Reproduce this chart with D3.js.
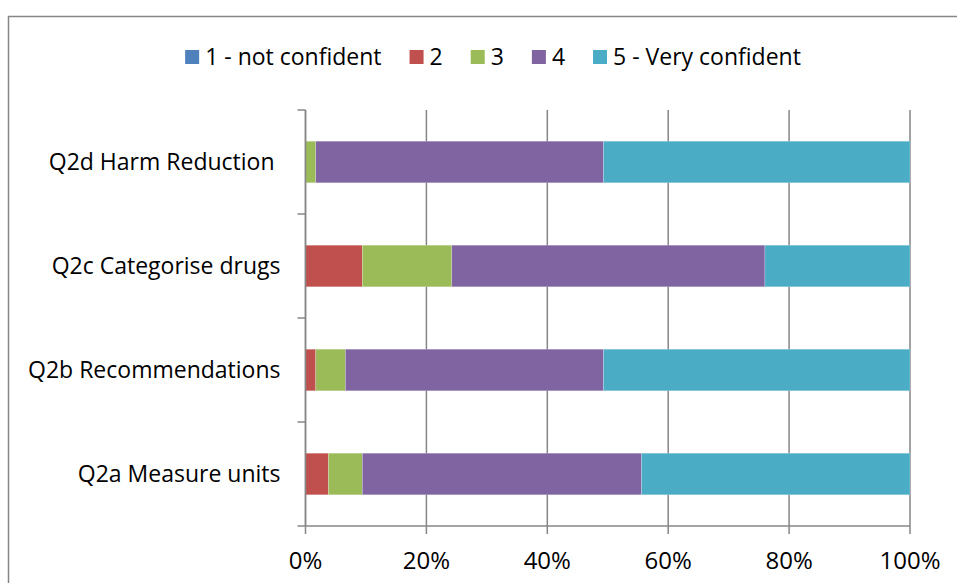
<!DOCTYPE html>
<html>
<head>
<meta charset="utf-8">
<script src="https://cdn.jsdelivr.net/npm/d3@7"></script>
<style>
  html, body { margin: 0; padding: 0; background: #fff; }
  svg { display: block; font-family: "Open Sans", Lato, sans-serif; }
  .cat-label { white-space: pre; }
</style>
</head>
<body>
<svg id="chart" width="957" height="583"></svg>
<script>
// Survey questions, bottom to top (the Q2d label carries a trailing space)
const categories = ["Q2a Measure units", "Q2b Recommendations", "Q2c Categorise drugs", "Q2d Harm Reduction "];
// Confidence levels (legend order)
const levels = ["1 - not confident", "2", "3", "4", "5 - Very confident"];
const levelColors = ["#4F81BD", "#C0504D", "#9BBB59", "#8064A2", "#4BACC6"];
// Share of responses (%) per level, one array per level, aligned with categories
const notConfident = [0, 0, 0, 0];
const level2 = [3.8, 1.7, 9.4, 0];
const level3 = [5.6, 4.9, 14.8, 1.7];
const level4 = [46.2, 42.7, 51.8, 47.6];
const veryConfident = [44.4, 50.7, 24.0, 50.7];
const xTicks = [0, 20, 40, 60, 80, 100];

const svg = d3.select("#chart");

// Outer chart frame
svg.append("rect")
  .attr("x", 8.5).attr("y", 16.5)
  .attr("width", 980).attr("height", 600)
  .attr("fill", "#fff").attr("stroke", "#868686").attr("stroke-width", 1.5);

const plot = { left: 305.5, right: 910, top: 110, bottom: 526 };

const x = d3.scaleLinear().domain([0, 100]).range([plot.left, plot.right]);
const y = d3.scaleBand().domain(categories).range([plot.bottom, plot.top])
  .paddingInner(0.6).paddingOuter(0.3);

// Vertical gridlines
svg.append("g").selectAll("line").data(xTicks).join("line")
  .attr("x1", d => x(d)).attr("x2", d => x(d))
  .attr("y1", plot.top).attr("y2", plot.bottom)
  .attr("stroke", "#868686").attr("stroke-width", 1.5);

// Stacked series
const table = categories.map((c, i) => ({
  cat: c,
  [levels[0]]: notConfident[i],
  [levels[1]]: level2[i],
  [levels[2]]: level3[i],
  [levels[3]]: level4[i],
  [levels[4]]: veryConfident[i]
}));
const stacked = d3.stack().keys(levels)(table);

svg.append("g").selectAll("g").data(stacked).join("g")
  .attr("fill", (d, i) => levelColors[i])
  .selectAll("rect").data(d => d).join("rect")
  .attr("x", d => x(d[0]))
  .attr("width", d => Math.max(0, x(d[1]) - x(d[0])))
  .attr("y", d => y(d.data.cat))
  .attr("height", y.bandwidth())
  .attr("stroke", "rgba(255,255,255,0.35)").attr("stroke-width", 0.6);

// Y axis: line, ticks between categories, labels
const yAxis = svg.append("g");
yAxis.append("line")
  .attr("x1", plot.left).attr("x2", plot.left)
  .attr("y1", plot.top).attr("y2", plot.bottom)
  .attr("stroke", "#868686").attr("stroke-width", 1.5);
const boundaries = categories.map(c => y(c) + y.bandwidth() + y.step() * y.paddingInner() / 2);
boundaries.push(plot.top);
yAxis.selectAll("line.tick").data(boundaries).join("line")
  .attr("class", "tick")
  .attr("x1", plot.left - 8).attr("x2", plot.left)
  .attr("y1", d => d).attr("y2", d => d)
  .attr("stroke", "#868686").attr("stroke-width", 1.5);
yAxis.selectAll("text").data(categories).join("text")
  .attr("class", "cat-label")
  .attr("x", plot.left - 25)
  .attr("y", d => y(d) + y.bandwidth() / 2)
  .attr("dy", "0.36em")
  .attr("text-anchor", "end")
  .attr("font-size", 23)
  .attr("fill", "#000")
  .text(d => d);

// X axis
const xAxis = svg.append("g");
xAxis.append("line")
  .attr("x1", plot.left).attr("x2", plot.right)
  .attr("y1", plot.bottom).attr("y2", plot.bottom)
  .attr("stroke", "#868686").attr("stroke-width", 1.5);
xAxis.selectAll("line.tick").data(xTicks).join("line")
  .attr("class", "tick")
  .attr("x1", d => x(d)).attr("x2", d => x(d))
  .attr("y1", plot.bottom).attr("y2", plot.bottom + 8)
  .attr("stroke", "#868686").attr("stroke-width", 1.5);
xAxis.selectAll("text").data(xTicks).join("text")
  .attr("x", d => x(d))
  .attr("y", 569)
  .attr("text-anchor", "middle")
  .attr("font-size", 24)
  .attr("fill", "#000")
  .text(d => d + "%");

// Legend, centred across the top
const legend = svg.append("g");
const items = legend.selectAll("g").data(levels).join("g");
items.append("rect")
  .attr("width", 14).attr("height", 14)
  .attr("y", 50)
  .attr("fill", (d, i) => levelColors[i]);
items.append("text")
  .attr("x", 20).attr("y", 64.5)
  .attr("font-size", 23)
  .attr("fill", "#000")
  .text(d => d);
let widths = [];
items.each(function () { widths.push(20 + d3.select(this).select("text").node().getComputedTextLength()); });
const gap = 28;
const total = d3.sum(widths) + gap * (widths.length - 1);
let cx = 493 - total / 2;
items.each(function (d, i) {
  d3.select(this).attr("transform", `translate(${cx},0)`);
  cx += widths[i] + gap;
});
</script>
</body>
</html>
